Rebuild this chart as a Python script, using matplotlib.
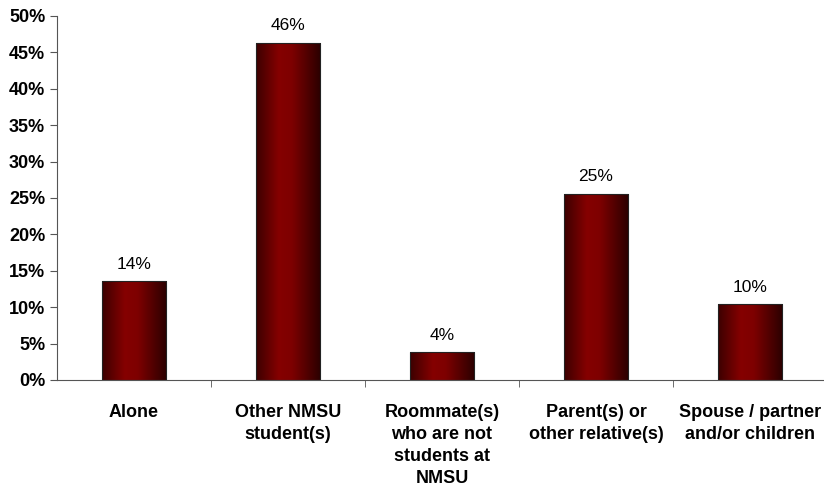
import numpy as np
import matplotlib
matplotlib.use("Agg")
import matplotlib.pyplot as plt
from matplotlib.colors import LinearSegmentedColormap
from matplotlib.ticker import FuncFormatter, FixedLocator

categories = ["Alone", "Other NMSU\nstudent(s)", "Roommate(s)\nwho are not\nstudents at\nNMSU",
              "Parent(s) or\nother relative(s)", "Spouse / partner\nand/or children"]
values = [13.6, 46.3, 3.8, 25.6, 10.4]
labels = ["14%", "46%", "4%", "25%", "10%"]

plt.rcParams['font.family'] = ['Liberation Sans', 'DejaVu Sans']

fig = plt.figure(figsize=(8.24, 4.87), dpi=100)
ax = fig.add_axes([57 / 824, 1 - 380 / 487, 770 / 824, 364 / 487])

# horizontal gradient for each bar: dark edges, bright red left of centre
cmap = LinearSegmentedColormap.from_list(
    "bar", [(0.0, "#3c0000"), (0.35, "#850000"), (0.55, "#7e0000"), (1.0, "#2a0000")])
grad = np.linspace(0, 1, 256).reshape(1, -1)
width = 0.42

x = np.arange(len(categories))
bars = ax.bar(x, values, width=width, color="none", edgecolor="#222222", linewidth=0.8, zorder=3)
for b in bars:
    x0, y0 = b.get_x(), b.get_y()
    im = ax.imshow(grad, cmap=cmap, aspect="auto", zorder=2,
                   extent=[x0, x0 + b.get_width(), y0, y0 + b.get_height()])
    im.set_clip_path(b)

for xi, v, lab in zip(x, values, labels):
    ax.text(xi, v + 1.3, lab, ha="center", va="bottom", fontsize=12.5)

ax.set_xlim(-0.5, 4.5)
ax.set_ylim(0, 50)
ax.set_yticks(np.arange(0, 51, 5))
ax.yaxis.set_major_formatter(FuncFormatter(lambda v, p: f"{v:.0f}%"))
for t in ax.get_yticklabels():
    t.set_fontweight("bold")
ax.tick_params(axis="y", labelsize=13, length=5, color="#555555")

ax.set_xticks(x)
ax.set_xticklabels(categories, fontsize=13, fontweight="bold", va="top", linespacing=1.4)
ax.tick_params(axis="x", length=0, pad=17)
ax.xaxis.set_minor_locator(FixedLocator(np.arange(0.5, 4.6, 1)))
ax.tick_params(axis="x", which="minor", length=5, color="#555555")

ax.spines["top"].set_visible(False)
ax.spines["right"].set_visible(False)
ax.spines["left"].set_color("#555555")
ax.spines["bottom"].set_color("#555555")

fig.savefig("out.png", dpi=100)
